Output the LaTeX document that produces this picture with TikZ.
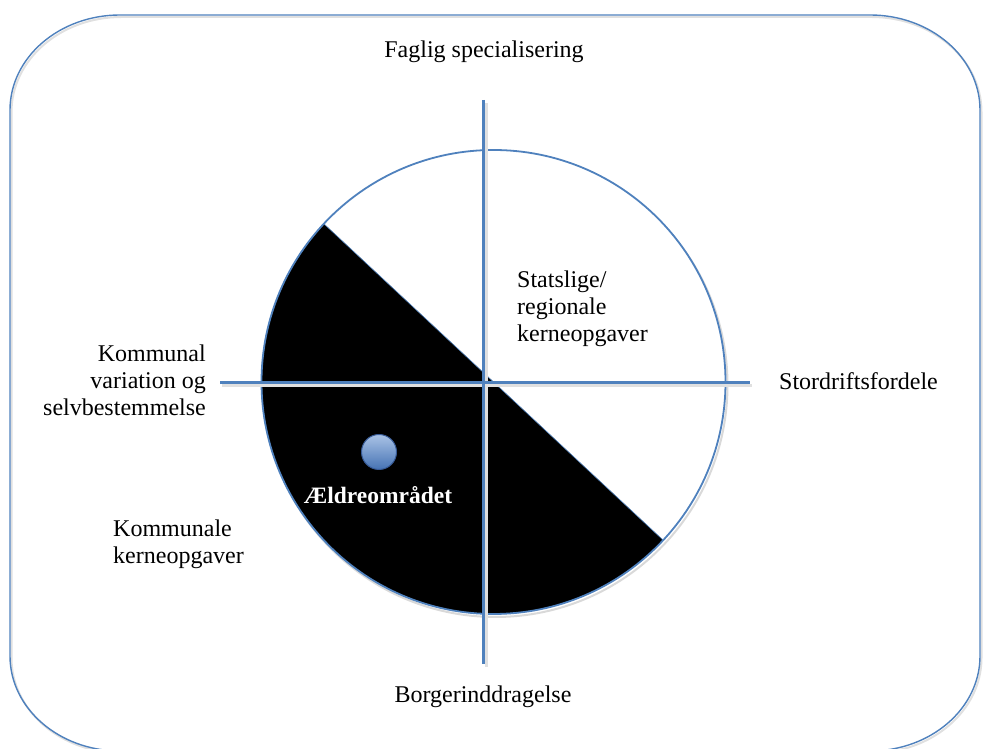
\documentclass[tikz,border=0pt]{standalone}
\usepackage{fontspec}
\setmainfont{Liberation Serif}
\definecolor{lineblue}{RGB}{79,129,189}
\definecolor{dotlight}{RGB}{170,195,230}
\definecolor{dotdark}{RGB}{70,115,180}
\definecolor{dotedge}{RGB}{55,90,150}
\tikzset{
  lbl/.style={font=\fontsize{24}{27}\selectfont, inner sep=0pt},
  axisline/.style={draw=lineblue, line width=3pt},
  shadowline/.style={draw=black!12, line width=3pt},
  framebox/.style={draw=lineblue, line width=1.4pt},
}
\begin{document}
\begin{tikzpicture}[x=1pt,y=1pt]
\useasboundingbox (0,0) rectangle (983,749);
% frame with rounded corners
\draw[black!12, line width=2pt, shift={(1.5,-2)}]
  (120,734) -- (870,734) arc[start angle=90,end angle=0,x radius=110,y radius=95]
  -- (980,93) arc[start angle=0,end angle=-90,x radius=110,y radius=95]
  -- (120,-2) arc[start angle=270,end angle=180,x radius=110,y radius=95]
  -- (10,639) arc[start angle=180,end angle=90,x radius=110,y radius=95] -- cycle;
\draw[framebox]
  (120,734) -- (870,734) arc[start angle=90,end angle=0,x radius=110,y radius=95]
  -- (980,93) arc[start angle=0,end angle=-90,x radius=110,y radius=95]
  -- (120,-2) arc[start angle=270,end angle=180,x radius=110,y radius=95]
  -- (10,639) arc[start angle=180,end angle=90,x radius=110,y radius=95] -- cycle;
% circle
\coordinate (c) at (493.5,367);
\draw[black!15, line width=2pt] ([shift={(2,-3)}]c) circle[radius=232];
\fill[white] (c) circle[radius=232];
\draw[fill=black, draw=lineblue, line width=0.6pt] (c) ++(137:232) arc[start angle=137,end angle=317,radius=232] -- cycle;
\draw[draw=lineblue, line width=1.8pt] (c) circle[radius=232];
% axes
\coordinate (vt) at (483.5,649);
\coordinate (vb) at (483.5,85);
\coordinate (hl) at (220,366.5);
\coordinate (hr) at (750,366.5);
\draw[shadowline] ([shift={(3,-3)}]vt) -- ([shift={(3,-3)}]vb);
\draw[shadowline] ([shift={(2,-3)}]hl) -- ([shift={(2,-3)}]hr);
\draw[axisline] (vt) -- (vb);
\draw[axisline] (hl) -- (hr);
% dot
\shade[top color=dotlight, bottom color=dotdark, draw=dotedge, line width=1pt] (379,297) circle[radius=17.5];
\node[circle, minimum size=35pt, inner sep=0pt] (dot) at (379,297) {};
% labels
\node[lbl] (top) at (484,697) {Faglig specialisering};
\node[lbl] (bottom) at (483,52) {Borgerinddragelse};
\node[lbl, anchor=west] (right) at (779,368) {Stordriftsfordele};
\node[lbl, anchor=east, align=right] (left) at (206,369) {Kommunal\\variation og\\selvbestemmelse};
\node[lbl, anchor=west, align=left] (stat) at (517,440) {Statslige/\\regionale\\kerneopgaver};
\node[lbl, anchor=west, align=left] (komm) at (113,204.5) {Kommunale\\kerneopgaver};
\node[lbl, font=\fontsize{23.5}{27}\selectfont\bfseries, text=white] (aeld) at (378,254) {Ældreområdet};
\end{tikzpicture}
\end{document}
